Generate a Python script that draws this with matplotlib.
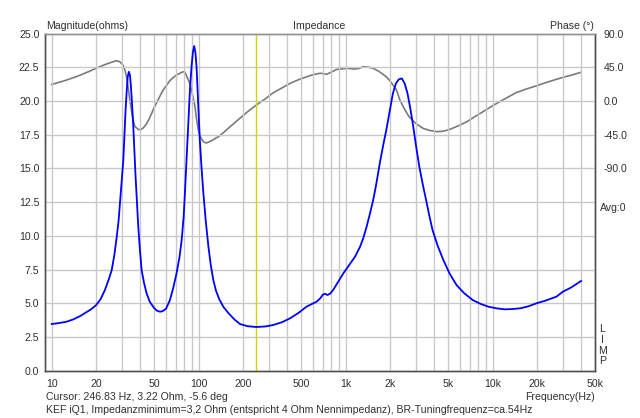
import matplotlib
matplotlib.use("Agg")
import matplotlib.pyplot as plt
from matplotlib.ticker import FixedLocator, NullLocator, FuncFormatter

# ---------------- data ----------------
mag_freq = [10, 11, 12.5, 14, 15.6, 17, 18.5, 20, 21.5, 23, 24.5, 25.6, 26.7, 27.7, 28.5,
            29.1, 29.9, 30.7, 31.3, 31.8, 32.4, 32.9, 33.5,
            34.1, 34.6, 35.2, 35.9, 36.5, 37.2, 38.0, 38.8, 39.8, 40.9, 42.5, 44.2, 46.5,
            49.9, 52, 54.6, 57, 60, 63.7, 67, 70.7, 74, 76.6, 79,
            80.8, 83, 84.9, 87.2, 89.4, 91.3, 93.2, 95, 96.7, 99, 101.8, 104.5, 107.2,
            111.5, 116.5, 121, 125.8, 131, 138, 148, 160, 175,
            191, 215, 247, 285, 322, 370, 418, 480, 542, 590, 635, 670, 703, 725, 752,
            785, 822, 890, 965, 1060, 1158, 1254, 1320, 1389, 1460,
            1540, 1620, 1707, 1800, 1891, 2000, 2097, 2200, 2300, 2413, 2520, 2637, 2760,
            2886, 3020, 3174, 3350, 3530, 3710, 3903, 4250,
            4627, 5100, 5684, 6400, 7322, 8300, 9398, 10700, 12070, 13700, 15500, 17600,
            19900, 23000, 27200, 30100, 34000, 40000]
mag_ohm = [3.46, 3.52, 3.62, 3.8, 4.05, 4.3, 4.55, 4.85, 5.3, 5.98, 6.8, 7.46, 8.6, 9.93, 11.1,
           12.4, 14.0, 15.6, 17.6, 19.3, 20.8, 21.8, 22.16,
           21.9, 21.05, 19.8, 18.1, 16.3, 14.4, 12.5, 10.7, 9.0, 7.46, 6.5, 5.74, 5.1,
           4.63, 4.45, 4.37, 4.42, 4.6, 5.23, 6.1, 7.22, 8.4, 9.69, 11.4,
           13.4, 16.0, 18.34, 20.8, 22.54, 23.6, 24.07, 23.6, 22.54, 20.0, 17.1, 15.1, 13.4,
           11.2, 9.19, 7.8, 6.72, 5.95, 5.3, 4.7, 4.25, 3.8,
           3.46, 3.3, 3.24, 3.28, 3.39, 3.6, 3.88, 4.3, 4.75, 4.95, 5.12, 5.35, 5.66, 5.7, 5.61,
           5.72, 5.98, 6.6, 7.22, 7.85, 8.45, 9.19, 9.85, 10.67, 11.6,
           12.65, 13.9, 15.37, 16.7, 17.84, 19.3, 20.56, 21.3, 21.6, 21.67, 21.3, 20.56, 19.4,
           18.09, 16.6, 15.12, 13.8, 12.65, 11.5, 10.43, 9.2,
           8.2, 7.2, 6.35, 5.75, 5.24, 4.95, 4.74, 4.62, 4.55, 4.57, 4.63, 4.78,
           5.0, 5.2, 5.49, 5.86, 6.15, 6.65]

phase_freq = [10, 12, 15, 18, 20, 23, 25, 27.4, 29, 30.5, 31.5, 32.3, 33, 34, 35.5, 36.8,
              38.8, 40.3, 42, 44, 46, 48, 50, 52.5, 55, 57.5, 60.6, 63, 66, 70, 74.5, 78.4,
              80.5, 82, 85, 87.3, 89.4, 92, 94.4, 97, 99.5, 101.9, 104,
              107, 110, 113, 118, 125, 131, 138, 148, 160, 175, 191, 215, 247, 285, 322, 370,
              418, 480, 542, 600, 668, 700, 740, 800, 870, 1020,
              1160, 1240, 1315, 1420, 1540, 1700, 1891, 2000, 2220, 2340, 2500, 2700, 3000,
              3360, 3750, 4170, 4600, 5140, 5800, 6680, 7600, 8600,
              9800, 11150, 12700, 14460, 17000, 19700, 23500, 28500, 33000, 40000]
phase_deg = [22.0, 26.5, 33, 39.5, 43.5, 48.5, 51, 53.6, 52.5, 48, 41, 32, 20, 1.3, -22, -34,
             -38, -38.5, -36, -31, -24, -16, -8, 0, 8, 15, 21, 26, 30, 34, 37, 39,
             38.5, 35, 28, 23, 14.5, 3, -8, -26, -39, -46, -50,
             -53.5, -55.5, -56, -54.5, -52, -49.5, -47, -42, -36, -29.5, -23, -14.5, -5.4, 3, 11, 17.5,
             23.4, 28.5, 32.2, 35, 36.9, 36.6, 35.5, 38.5, 42.1, 43.5,
             42.6, 43.5, 45.7, 45.2, 43.5, 39, 32.2, 27, 14.5, 1.2, -10, -21, -30,
             -36.5, -39.5, -41, -40.5, -37.8, -33.5, -27.8, -20.8, -14.4,
             -7.5, -1.1, 5, 11, 16, 19.9, 25, 30.1, 33.5, 38.2]

cursor_freq = 246.83
x_ticks = [10, 20, 50, 100, 200, 500, 1000, 2000, 5000, 10000, 20000, 50000]
x_tick_labels = ["10", "20", "50", "100", "200", "500", "1k", "2k", "5k", "10k", "20k", "50k"]
mag_ticks = [0, 2.5, 5, 7.5, 10, 12.5, 15, 17.5, 20, 22.5, 25]
phase_ticks = [90, 45, 0, -45, -90]

# ---------------- figure ----------------
W, H = 640, 418
plt.rcParams['font.family'] = ['Liberation Sans', 'DejaVu Sans']
fig = plt.figure(figsize=(W / 100, H / 100), dpi=100)
fig.patch.set_facecolor('white')

L, R, T, B = 45, 595.3, 33.5, 370.7
ax = fig.add_axes([L / W, 1 - B / H, (R - L) / W, (B - T) / H])
ax.set_xscale('log')
ax.set_xlim(9.0, 50000)
ax.set_ylim(0, 25)

# grid lines at all 1..9 multiples of decades
grid_x = []
for dec in [10, 100, 1000, 10000]:
    for k in range(1, 10):
        v = dec * k
        if v <= 50000:
            grid_x.append(v)
gc = '#c8c8c8'
for v in grid_x:
    ax.axvline(v, color=gc, lw=1.0, zorder=0)
for v in mag_ticks[1:-1]:
    ax.axhline(v, color=gc, lw=1.0, zorder=0)

ax.axvline(cursor_freq, color='#d4d400', lw=1.0, zorder=1)

fs = 7.6
tc = '#303030'
ax.xaxis.set_major_locator(FixedLocator(x_ticks))
ax.xaxis.set_minor_locator(NullLocator())
ax.set_xticklabels(x_tick_labels)
ax.yaxis.set_major_locator(FixedLocator(mag_ticks))
ax.yaxis.set_major_formatter(FuncFormatter(lambda v, p: f"{v:.1f}"))
ax.tick_params(axis='both', length=0, labelsize=fs, colors=tc)
ax.tick_params(axis='x', pad=6)
ax.tick_params(axis='y', pad=4)

ax2 = ax.twinx()
ax2.set_ylim(-360, 90)
ax2.yaxis.set_major_locator(FixedLocator(phase_ticks))
ax2.yaxis.set_major_formatter(FuncFormatter(lambda v, p: f"{v:.1f}"))
ax2.tick_params(axis='y', length=0, labelsize=fs, colors=tc, pad=6)

for a in (ax, ax2):
    for s in a.spines.values():
        s.set_color('#505050')
        s.set_linewidth(1.0)
ax.spines['top'].set_color('#909090')
ax2.spines['top'].set_color('#909090')

ax2.plot(phase_freq, phase_deg, color='#7a7a7a', lw=1.2, zorder=3)
ax.set_zorder(ax2.get_zorder() + 1)
ax.patch.set_visible(False)
ax.plot(mag_freq, mag_ohm, color='#0000ff', lw=1.3, zorder=4)

def ftext(x, y, s, ha='left', va='center', **kw):
    fig.text(x / W, 1 - y / H, s, ha=ha, va=va, fontsize=fs, color=tc, **kw)

ftext(45.7, 26, "Magnitude(ohms)")
ftext(319, 26, "Impedance", ha='center')
ftext(594, 26, "Phase (°)", ha='right')
ftext(599.5, 207.7, "Avg:0")
for i, ch in enumerate("LIMP"):
    ftext(602.5, 329.5 + i * 10.5, ch, ha='center')
ftext(45.7, 396.7, "Cursor: 246.83 Hz, 3.22 Ohm, -5.6 deg")
ftext(595.3, 396.7, "Frequency(Hz)", ha='right')
ftext(45.7, 410, "KEF iQ1, Impedanzminimum=3,2 Ohm (entspricht 4 Ohm Nennimpedanz), BR-Tuningfrequenz=ca.54Hz")

fig.savefig("out.png", dpi=100, facecolor='white')
